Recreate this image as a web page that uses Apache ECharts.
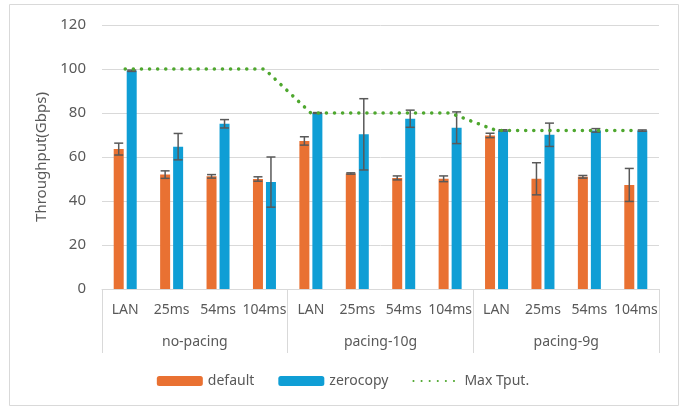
<!DOCTYPE html>
<html>
<head>
<meta charset="utf-8">
<script src="https://cdn.jsdelivr.net/npm/echarts@6/dist/echarts.min.js"></script>
<style>
  html, body { margin: 0; padding: 0; background: #fff; }
  #mainChart { width: 686px; height: 407px; }
</style>
</head>
<body>
<div id="mainChart"></div>
<script>
// 数据
var delays = ['LAN', '25ms', '54ms', '104ms', 'LAN', '25ms', '54ms', '104ms', 'LAN', '25ms', '54ms', '104ms'];
var groups = ['no-pacing', 'pacing-10g', 'pacing-9g'];
var defaultVals = [63.6, 52.0, 51.2, 50.0, 67.3, 52.5, 50.5, 50.1, 69.8, 50.1, 51.0, 47.3];
var defaultErr = [2.7, 1.7, 0.8, 1.0, 1.9, 0.3, 0.9, 1.3, 1.0, 7.3, 0.6, 7.5];
var zerocopyVals = [99.2, 64.7, 75.1, 48.6, 80.0, 70.3, 77.4, 73.3, 72.1, 70.1, 72.1, 72.0];
var zerocopyErr = [0.3, 6.0, 1.9, 11.4, 0.2, 16.2, 3.9, 7.2, 0.3, 5.3, 0.8, 0.3];
var maxTput = [100, 100, 100, 100, 80, 80, 80, 80, 72, 72, 72, 72];
var yTicks = [0, 20, 40, 60, 80, 100, 120];

var fontName = 'Noto Sans';
var textColor = '#595959';
var lineColor = '#d9d9d9';

function errData(vals, errs) {
    return vals.map(function (v, i) {
        return [i, v - errs[i], v + errs[i]];
    });
}

// 误差线
function makeErrRender(offset) {
    return function (params, api) {
        var low = api.coord([api.value(0), api.value(1)]);
        var high = api.coord([api.value(0), api.value(2)]);
        var x = low[0] + offset;
        var cap = 4.5;
        var style = { stroke: '#595959', lineWidth: 1.5 };
        return {
            type: 'group',
            children: [
                { type: 'line', shape: { x1: x, y1: high[1], x2: x, y2: low[1] }, style: style },
                { type: 'line', shape: { x1: x - cap, y1: high[1], x2: x + cap, y2: high[1] }, style: style },
                { type: 'line', shape: { x1: x - cap, y1: low[1], x2: x + cap, y2: low[1] }, style: style }
            ]
        };
    };
}

var myChart = echarts.init(document.getElementById('mainChart'));

var option = {
    animation: false,
    textStyle: { fontFamily: fontName },
    graphic: [{
        type: 'rect',
        shape: { x: 9.5, y: 4.5, width: 669, height: 401 },
        style: { fill: 'none', stroke: lineColor, lineWidth: 1 },
        silent: true
    }],
    grid: { left: 102, right: 27, top: 25, bottom: 118 },
    legend: {
        left: 'center',
        top: 369,
        itemWidth: 46,
        itemHeight: 10,
        itemGap: 24,
        textStyle: { fontFamily: fontName, fontSize: 14, color: textColor },
        data: ['default', 'zerocopy', {
            name: 'Max Tput.',
            itemStyle: { opacity: 0 }
        }]
    },
    xAxis: [{
        type: 'category',
        data: delays,
        axisLine: { lineStyle: { color: lineColor, width: 1 } },
        axisTick: { show: false },
        axisLabel: { margin: 14, fontSize: 14, color: textColor, fontFamily: fontName, interval: 0 }
    }, {
        type: 'category',
        data: groups,
        position: 'bottom',
        axisLine: { show: false },
        axisTick: { show: true, length: 64, lineStyle: { color: lineColor, width: 1 } },
        axisLabel: { margin: 46, fontSize: 14, color: textColor, fontFamily: fontName }
    }],
    yAxis: {
        type: 'value',
        min: yTicks[0],
        max: yTicks[yTicks.length - 1],
        interval: 20,
        name: 'Throughput(Gbps)',
        nameLocation: 'middle',
        nameGap: 40,
        nameTextStyle: { fontSize: 15, color: textColor, fontFamily: fontName },
        axisLine: { show: false },
        axisTick: { show: false },
        axisLabel: { margin: 16, fontSize: 15, color: textColor, fontFamily: fontName },
        splitLine: { lineStyle: { color: lineColor, width: 1 } }
    },
    series: [{
        name: 'default',
        type: 'bar',
        data: defaultVals,
        barWidth: 10,
        barGap: '30%',
        itemStyle: { color: '#E97132' }
    }, {
        name: 'zerocopy',
        type: 'bar',
        data: zerocopyVals,
        barWidth: 10,
        barGap: '30%',
        itemStyle: { color: '#0F9ED5' }
    }, {
        name: 'Max Tput.',
        type: 'line',
        data: maxTput,
        symbol: 'none',
        z: 5,
        itemStyle: { color: '#4EA72E' },
        lineStyle: { color: '#4EA72E', width: 3.5, type: [0.1, 8], cap: 'round' }
    }, {
        name: 'defaultErr',
        type: 'custom',
        data: errData(defaultVals, defaultErr),
        renderItem: makeErrRender(-6.5),
        encode: { x: 0, y: [1, 2] },
        z: 4
    }, {
        name: 'zerocopyErr',
        type: 'custom',
        data: errData(zerocopyVals, zerocopyErr),
        renderItem: makeErrRender(6.5),
        encode: { x: 0, y: [1, 2] },
        z: 4
    }]
};

myChart.setOption(option);
</script>
</body>
</html>
